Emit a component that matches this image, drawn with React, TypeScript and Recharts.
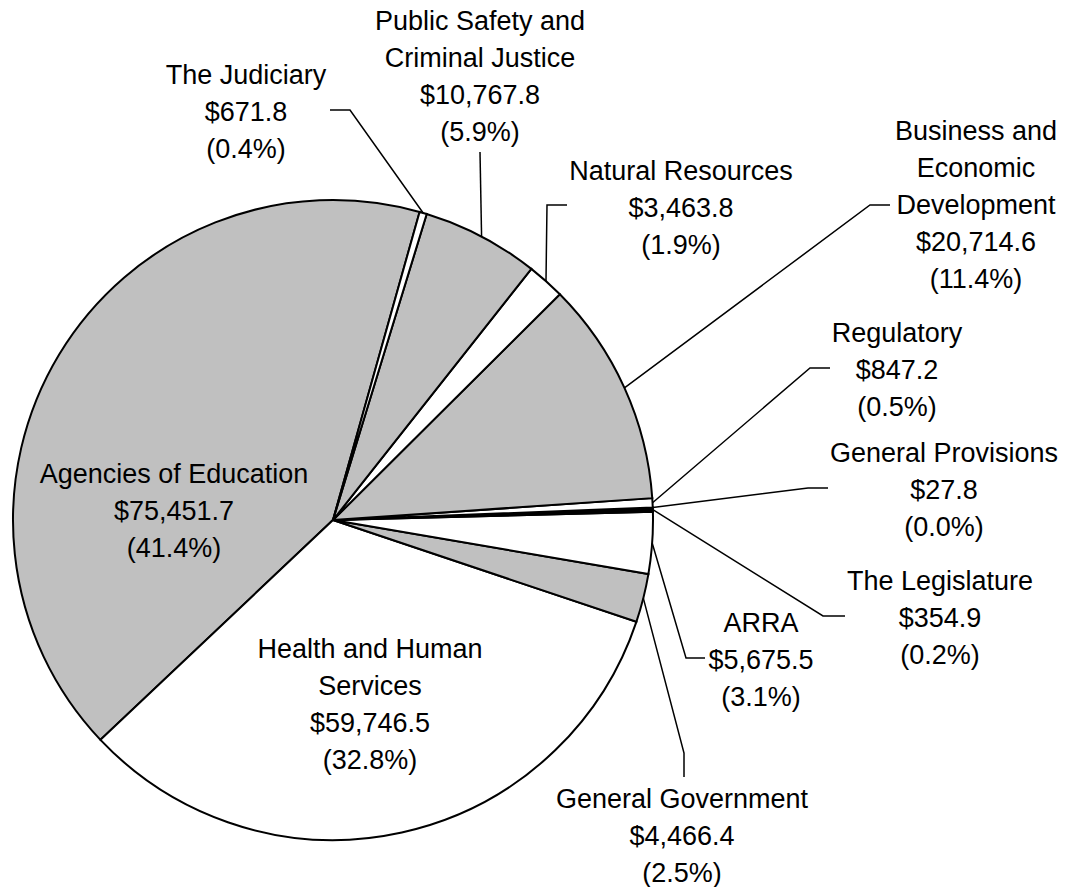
import { PieChart, Pie, Cell } from "recharts";

// budget categories, counterclockwise from the Judiciary edge
const categories = [
	"Agencies of Education",
	"Health and Human\nServices",
	"General Government",
	"ARRA",
	"The Legislature",
	"General Provisions",
	"Regulatory",
	"Business and\nEconomic\nDevelopment",
	"Natural Resources",
	"Public Safety and\nCriminal Justice",
	"The Judiciary",
];

const amounts = [75451.7, 59746.5, 4466.4, 5675.5, 354.9, 27.8, 847.2, 20714.6, 3463.8, 10767.8, 671.8];

const GRAY = "#c0c0c0";
const WHITE = "#ffffff";
// the Legislature wedge is so thin it reads as a solid black band
const fills = [GRAY, WHITE, GRAY, WHITE, "#000000", WHITE, WHITE, GRAY, WHITE, GRAY, WHITE];

// label anchor (centre x, first baseline) and leader line bends
const labelLayout = [
	{ x: 174, y: 483, bends: [] },
	{ x: 370, y: 658, bends: [] },
	{ x: 682, y: 808, bends: [[684, 753], [684, 777]] },
	{ x: 761, y: 632, bends: [[686, 658], [705, 658]] },
	{ x: 940, y: 590, bends: [[823, 616], [845, 616]] },
	{ x: 944, y: 462, bends: [[808, 488], [828, 488]] },
	{ x: 897, y: 342, bends: [[810, 368], [830, 368]] },
	{ x: 976, y: 140, bends: [[870, 205], [890, 205]] },
	{ x: 681, y: 180, bends: [[547, 205], [567, 205]] },
	{ x: 480, y: 30, bends: [[480, 152]] },
	{ x: 246, y: 84, bends: [[350, 110], [330, 110]] },
];

const total = amounts.reduce((a, b) => a + b, 0);

const data = categories.map((name, i) => ({ name, value: amounts[i] }));

const RADIAN = Math.PI / 180;
const LINE_H = 37;

function money(v: number) {
	return "$" + v.toLocaleString("en-US", { minimumFractionDigits: 1, maximumFractionDigits: 1 });
}

function renderLabel(props: any) {
	const { cx, cy, midAngle, outerRadius, index } = props;
	const layout = labelLayout[index];
	const lines = [...categories[index].split("\n"), money(amounts[index]), "(" + ((amounts[index] / total) * 100).toFixed(1) + "%)"];
	let line = null;
	if (layout.bends.length) {
		const ex = cx + outerRadius * Math.cos(-midAngle * RADIAN);
		const ey = cy + outerRadius * Math.sin(-midAngle * RADIAN);
		const pts = [[ex, ey], ...layout.bends].map((p) => p.join(",")).join(" ");
		line = <polyline points={pts} fill="none" stroke="#000" strokeWidth={1.5} />;
	}
	return (
		<g key={"lbl" + index}>
			{line}
			<text x={layout.x} y={layout.y} textAnchor="middle" fill="#000" fontSize={27} fontFamily="'Liberation Sans', Arial, sans-serif">
				{lines.map((t, j) => (
					<tspan key={j} x={layout.x} y={layout.y + j * LINE_H}>
						{t}
					</tspan>
				))}
			</text>
		</g>
	);
}

export default function App() {
	return (
		<div style={{ position: "absolute", left: 0, top: 0, background: "#fff" }}>
			<PieChart width={1073} height={887} margin={{ top: 0, right: 0, bottom: 0, left: 0 }}>
				<Pie
					data={data}
					dataKey="value"
					nameKey="name"
					cx={333}
					cy={520}
					outerRadius={320}
					startAngle={74.3}
					endAngle={434.3}
					stroke="#000"
					strokeWidth={2}
					label={renderLabel}
					labelLine={false}
					isAnimationActive={false}
				>
					{data.map((d, i) => (
						<Cell key={d.name} fill={fills[i]} />
					))}
				</Pie>
			</PieChart>
		</div>
	);
}
